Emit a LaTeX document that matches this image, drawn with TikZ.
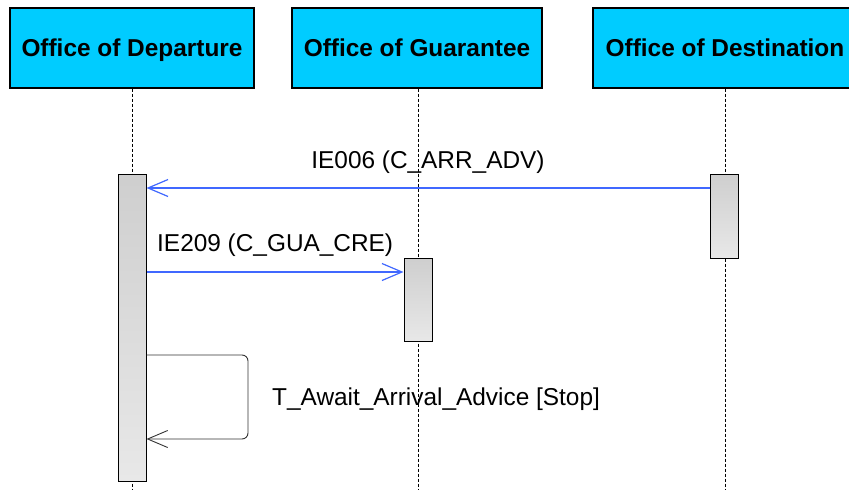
\documentclass[tikz,border=0pt]{standalone}
\usepackage{fontspec}
\setmainfont{Liberation Sans}
\usetikzlibrary{arrows.meta}
\definecolor{hdr}{RGB}{0,204,255}
\definecolor{msg}{RGB}{64,104,255}
\begin{document}
\begin{tikzpicture}[x=1pt,y=-1pt,
  header/.style={draw=black,line width=1.2pt,fill=hdr,minimum height=80pt,inner sep=0pt,text depth=0pt,font=\fontsize{24.4}{27}\selectfont\bfseries},
  bar/.style={draw=black,line width=1pt,top color=black!19,bottom color=black!9,minimum width=28pt,inner sep=0pt},
  lifeline/.style={dashed,dash pattern=on 3pt off 2pt,line width=1pt},
  msgarrow/.style={draw=msg,line width=1.2pt,-{Straight Barb[length=20pt,width=17pt,line width=1.2pt]}},
  selfarrow/.style={draw=black!80,line width=0.9pt,rounded corners=6pt,-{Straight Barb[length=20pt,width=17pt,line width=0.9pt]}},
  lbl/.style={font=\fontsize{24.4}{27}\selectfont,inner sep=0pt}]
\useasboundingbox (0,0) rectangle (849,490);
\begin{scope}
\clip (0,0) rectangle (849,490);
% headers
\node[header,minimum width=244pt] (dep) at (132,48) {Office of Departure};
\node[header,minimum width=250pt] (gua) at (417,48) {Office of Guarantee};
\node[header,minimum width=264pt] (dst) at (725,48) {Office of Destination};
% lifeline ends
\coordinate (depend) at (132,490);
\coordinate (guaend) at (418,490);
\coordinate (dstend) at (725,490);
\draw[lifeline] (dep.south) -- (depend);
\draw[lifeline] (gua.south -| guaend) -- (guaend);
\draw[lifeline] (dst.south) -- (dstend);
% activation bars
\node[bar,anchor=north,minimum height=307pt] (depbar) at (132,174) {};
\node[bar,anchor=north,minimum height=83pt] (guabar) at (418,258) {};
\node[bar,anchor=north,minimum height=84pt] (dstbar) at (724.5,174) {};
% messages
\coordinate (m1s) at (dstbar.west |- 0,188);
\coordinate (m1e) at (depbar.east |- 0,188);
\draw[msgarrow] (m1s) -- (m1e);
\node[lbl] (l1) at (428,162) {IE006 (C\_ARR\_ADV)};
\coordinate (m2s) at (depbar.east |- 0,272);
\coordinate (m2e) at (guabar.west |- 0,272);
\draw[msgarrow] (m2s) -- (m2e);
\node[lbl,anchor=west] (l2) at (157,245) {IE209 (C\_GUA\_CRE)};
\coordinate (s1) at (depbar.east |- 0,355);
\coordinate (s2) at (depbar.east |- 0,439);
\draw[selfarrow] (s1) -- (248,355) -- (248,439) -- (s2);
\node[lbl,anchor=west] (l3) at (272,399) {T\_Await\_Arrival\_Advice [Stop]};
\end{scope}
\end{tikzpicture}
\end{document}
